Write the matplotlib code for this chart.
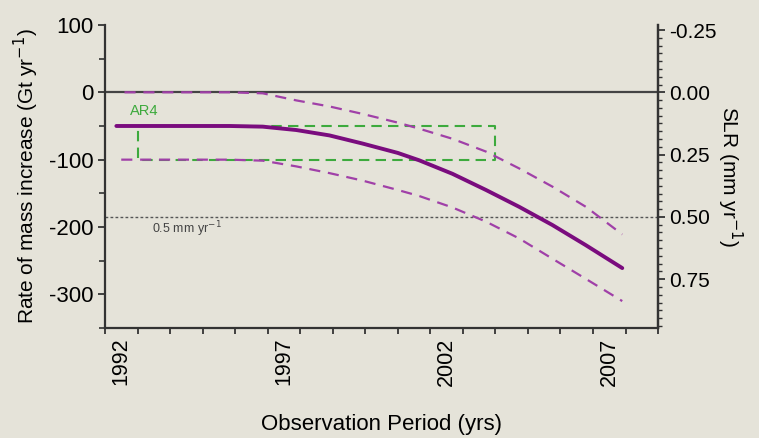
import matplotlib
matplotlib.use("Agg")
import matplotlib.pyplot as plt
from matplotlib.ticker import MultipleLocator, FixedLocator
import numpy as np

plt.rcParams['font.family'] = ['Liberation Sans', 'DejaVu Sans']
plt.rcParams['axes.unicode_minus'] = False

# ---- data ----
solid_x = [1991.85, 1995.33, 1996.35, 1997.38, 1998.4, 1999.41, 2000.5, 2001.16,
           2002.18, 2003.21, 2004.23, 2005.25, 2006.28, 2007.4]
solid_y = [-50, -50, -51, -56, -64, -76, -90, -101, -121, -145, -170, -197, -227, -261]

upper_x = [1992.1, 1995.33, 1996.35, 1997.38, 1998.4, 1999.41, 2000.5, 2001.16,
           2002.18, 2003.21, 2004.23, 2005.25, 2006.28, 2007.4]
upper_y = [0, 0, -1.5, -12, -21, -32, -45, -54, -69, -88, -113, -140, -170, -211]

lower_x = [1992.0, 1995.33, 1996.35, 1997.38, 1998.4, 1999.41, 2000.5, 2001.16,
           2002.18, 2003.21, 2004.23, 2005.25, 2006.28, 2007.4]
lower_y = [-100, -100, -101.5, -110, -120, -131, -145, -154, -171, -192, -217, -247, -277, -310]

ar4_x = [1992.5, 2003.5]
ar4_y = [-100, -50]

gt_per_mm = 370.0
slr_line_mm = 0.5

year_labels = [1992, 1997, 2002, 2007]
left_ticks = [100, 0, -100, -200, -300]
right_ticks = [-0.25, 0.00, 0.25, 0.50, 0.75]

bg = '#E5E3D9'
purple = '#7A0C7E'
dash_purple = '#A040A8'
green = '#3DAA3D'
axc = '#333333'

fig = plt.figure(figsize=(7.59, 4.38), dpi=100, facecolor=bg)
ax = fig.add_axes([0.1383, 0.2511, 0.867 - 0.1383, 0.943 - 0.2511])
ax.set_facecolor(bg)

ax.set_xlim(1991.5, 2008.5)
ax.set_ylim(-350, 100)

# reference lines
ax.axhline(0, color='#444444', lw=1.6, zorder=1)
ax.axhline(-slr_line_mm * gt_per_mm, color='#555555', lw=1.0, ls=(0, (2, 1.6)), zorder=1)
ax.text(1992.95, -slr_line_mm * gt_per_mm - 4, '0.5 mm yr$^{-1}$', fontsize=9,
        color='#444444', va='top', ha='left')

# AR4 box
ax.plot([ar4_x[0], ar4_x[1], ar4_x[1], ar4_x[0], ar4_x[0]],
        [ar4_y[1], ar4_y[1], ar4_y[0], ar4_y[0], ar4_y[1]],
        color=green, lw=1.5, ls=(0, (5, 3)), zorder=2)
ax.text(1992.27, -28, 'AR4', color=green, fontsize=10.5, ha='left', va='center')

# curves
ax.plot(upper_x, upper_y, color=dash_purple, lw=1.6, ls=(0, (5, 3.5)), zorder=3)
ax.plot(lower_x, lower_y, color=dash_purple, lw=1.6, ls=(0, (5, 3.5)), zorder=3)
ax.plot(solid_x, solid_y, color=purple, lw=2.8, solid_capstyle='round',
        solid_joinstyle='round', zorder=4)

# spines
for s in ['left', 'bottom', 'right']:
    ax.spines[s].set_color(axc)
    ax.spines[s].set_linewidth(1.6)
ax.spines['top'].set_visible(False)

# y ticks left
ax.yaxis.set_major_locator(FixedLocator(left_ticks))
ax.yaxis.set_minor_locator(MultipleLocator(50))
ax.tick_params(axis='y', which='major', length=5, width=1.3, color=axc, labelsize=16, pad=3)
ax.tick_params(axis='y', which='minor', length=4, width=1.2, color=axc)

# x ticks: minor ticks at half years, labels at integer years
ax.xaxis.set_major_locator(FixedLocator(year_labels))
ax.set_xticklabels([str(y) for y in year_labels], rotation=90)
ax.xaxis.set_minor_locator(FixedLocator(np.arange(1991.5, 2008.51, 1.0)))
ax.tick_params(axis='x', which='major', length=0, labelsize=15.5, pad=7)
ax.tick_params(axis='x', which='minor', length=4, width=1.3, color=axc)

ax.set_ylabel('Rate of mass increase (Gt yr$^{-1}$)', fontsize=15, labelpad=6)
ax.set_xlabel('Observation Period (yrs)', fontsize=16, labelpad=20)

# right axis in SLR units
ax2 = ax.twinx()
ax2.set_ylim(350 / gt_per_mm, -100 / gt_per_mm)
ax2.yaxis.set_major_locator(FixedLocator(right_ticks))
ax2.set_yticklabels(['%.2f' % v for v in right_ticks])
ax2.yaxis.set_minor_locator(MultipleLocator(0.03125))
ax2.tick_params(axis='y', which='major', length=5, width=1.3, color=axc, labelsize=15, pad=3)
ax2.tick_params(axis='y', which='minor', length=3, width=1.0, color=axc)
for s in ['left', 'bottom', 'top']:
    ax2.spines[s].set_visible(False)
ax2.spines['right'].set_color(axc)
ax2.spines['right'].set_linewidth(1.6)
ax2.set_ylabel('SLR (mm yr$^{-1}$)', fontsize=15, rotation=-90, labelpad=20)

fig.savefig('out.png', dpi=100, facecolor=bg)
